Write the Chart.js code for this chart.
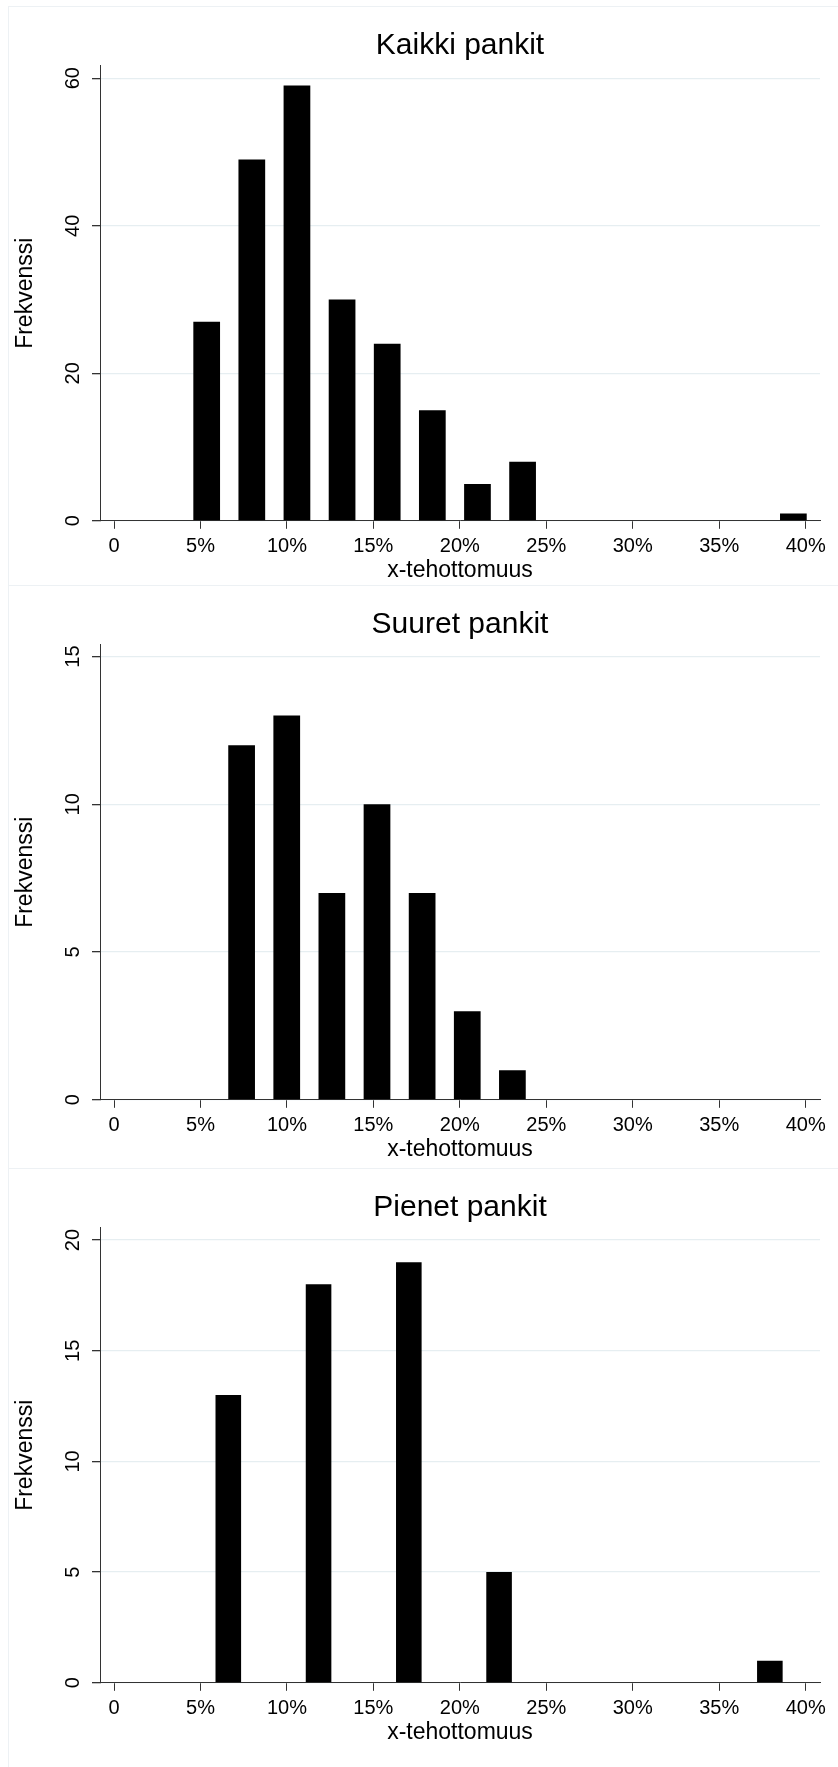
<!DOCTYPE html>
<html>
<head>
<meta charset="utf-8">
<title>x-tehottomuus</title>
<script src="https://cdn.jsdelivr.net/npm/chart.js@4.4.0/dist/chart.umd.min.js"></script>
<style>
  html, body { margin: 0; padding: 0; background: #fff; }
  body { width: 838px; height: 1767px; position: relative; overflow: hidden; }
  .panel { position: absolute; left: 8px; width: 840px; border-top: 1px solid #edf1f4; border-left: 1px solid #edf1f4; }
  .panel canvas { display: block; }
</style>
</head>
<body>
<div class="panel" style="top:6px;height:578px"><canvas id="kaikki" width="829" height="578"></canvas></div>
<div class="panel" style="top:585px;height:582px"><canvas id="suuret" width="829" height="578"></canvas></div>
<div class="panel" style="top:1168px;height:620px"><canvas id="pienet" width="829" height="578"></canvas></div>
<script>
// x-akseli (prosentteina)
const xTicks = [0, 5, 10, 15, 20, 25, 30, 35, 40];
const xLabels = ['0', '5%', '10%', '15%', '20%', '25%', '30%', '35%', '40%'];
const xMin = -0.81;
const xMax = 40.83;

// Kaikki pankit
const kaikkiBins = [5.36, 7.97, 10.58, 13.19, 15.80, 18.41, 21.02, 23.63, 26.24, 28.85, 31.46, 34.07, 36.68, 39.29];
const kaikkiCounts = [27, 49, 59, 30, 24, 15, 5, 8, 0, 0, 0, 0, 0, 1];
const kaikkiYTicks = [0, 20, 40, 60];

// Suuret pankit
const suuretBins = [7.38, 9.99, 12.60, 15.21, 17.82, 20.43, 23.04];
const suuretCounts = [12, 13, 7, 10, 7, 3, 1];
const suuretYTicks = [0, 5, 10, 15];

// Pienet pankit
const pienetBins = [6.61, 11.83, 17.05, 22.27, 27.49, 32.71, 37.93];
const pienetCounts = [13, 18, 19, 5, 0, 0, 1];
const pienetYTicks = [0, 5, 10, 15, 20];

Chart.defaults.font.family = "'Liberation Sans', Arial, sans-serif";
Chart.defaults.color = '#000';

const makeHistogram = (id, title, bins, counts, yTicks, yMax, barFrac) => {
    const canvas = document.getElementById(id);
    return new Chart(canvas, {
        type: 'bar',
        data: {
            datasets: [{
                data: bins.map((b, i) => ({x: b, y: counts[i]})),
                backgroundColor: '#000',
                borderWidth: 0,
                barPercentage: barFrac,
                categoryPercentage: 1
            }]
        },
        options: {
            responsive: false,
            animation: false,
            layout: {padding: {left: 0, right: 18, top: 0, bottom: 0}},
            plugins: {legend: {display: false}, tooltip: {enabled: false}},
            scales: {
                x: {
                    type: 'linear',
                    position: 'bottom',
                    min: xMin,
                    max: xMax,
                    offset: false,
                    afterBuildTicks: s => { s.ticks = xTicks.map(v => ({value: v})); },
                    afterFit: s => { s.height = 64.2; },
                    grid: {offset: false, drawOnChartArea: false, tickLength: 8, color: '#333', tickColor: '#333'},
                    border: {color: '#333', width: 1},
                    ticks: {
                        autoSkip: false,
                        maxRotation: 0,
                        padding: 6,
                        font: {size: 20},
                        callback: v => xLabels[xTicks.indexOf(v)]
                    },
                    title: {display: true, text: 'x-tehottomuus', font: {size: 23}, padding: {top: 0, bottom: 0.5}}
                },
                top: {
                    type: 'linear',
                    axis: 'x',
                    position: 'top',
                    min: xMin,
                    max: xMax,
                    afterFit: s => { s.height = 58.7; },
                    grid: {display: false},
                    border: {display: false},
                    ticks: {display: false},
                    title: {display: true, text: title, font: {size: 30}, padding: {top: 20.3, bottom: 0}}
                },
                y: {
                    type: 'linear',
                    min: 0,
                    max: yMax,
                    afterBuildTicks: s => { s.ticks = yTicks.map(v => ({value: v})); },
                    afterFit: s => { s.width = 91; },
                    grid: {color: '#e6eef1', lineWidth: 1.3, tickLength: 8, tickColor: '#333'},
                    border: {color: '#333', width: 1},
                    ticks: {
                        autoSkip: false,
                        minRotation: 90,
                        maxRotation: 90,
                        crossAlign: 'center',
                        padding: 7.6,
                        font: {size: 20}
                    },
                    title: {display: true, text: 'Frekvenssi', font: {size: 23}, padding: {top: 2.9, bottom: 0}}
                }
            }
        }
    });
};

makeHistogram('kaikki', 'Kaikki pankit', kaikkiBins, kaikkiCounts, kaikkiYTicks, 61.7, 0.592);
makeHistogram('suuret', 'Suuret pankit', suuretBins, suuretCounts, suuretYTicks, 15.4, 0.592);
makeHistogram('pienet', 'Pienet pankit', pienetBins, pienetCounts, pienetYTicks, 20.56, 0.296);
</script>
</body>
</html>
